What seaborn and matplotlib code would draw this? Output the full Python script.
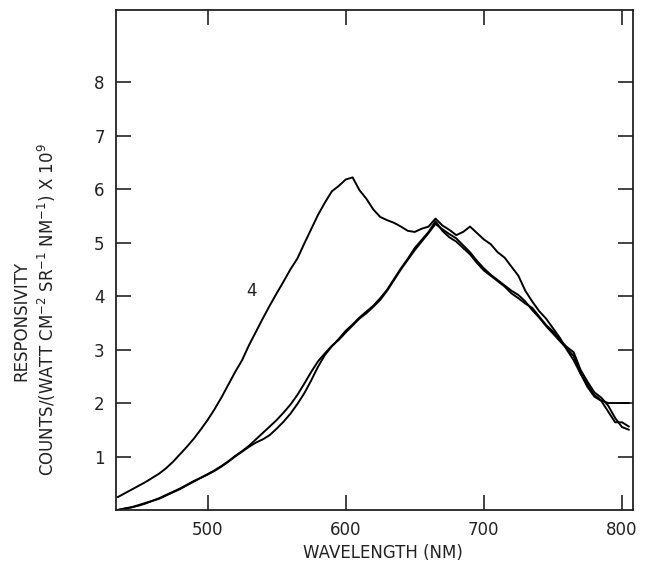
import numpy as np
import pandas as pd
import matplotlib
matplotlib.use("Agg")
import matplotlib.pyplot as plt
import seaborn as sns

wavelength = [435, 440, 445, 450, 455, 460, 465, 470, 475, 480, 485, 490, 495, 500,
              505, 510, 515, 520, 525, 530, 535, 540, 545, 550, 555, 560, 565, 570,
              575, 580, 585, 590, 595, 600, 605, 610, 615, 620, 625, 630, 635, 640,
              645, 650, 655, 660, 665, 670, 675, 680, 685, 690, 695, 700, 705, 710,
              715, 720, 725, 730, 735, 740, 745, 750, 755, 760, 765, 770, 775, 780,
              785, 790, 795, 800, 805]

curve_4 = [0.24, 0.31, 0.38, 0.45, 0.52, 0.60, 0.68, 0.78, 0.90, 1.04, 1.18, 1.33, 1.50, 1.68,
           1.88, 2.10, 2.34, 2.58, 2.80, 3.08, 3.33, 3.58, 3.82, 4.05, 4.27, 4.50, 4.70, 4.98,
           5.25, 5.52, 5.75, 5.96, 6.06, 6.18, 6.22, 5.98, 5.82, 5.62, 5.48, 5.42, 5.37, 5.30,
           5.22, 5.20, 5.26, 5.30, 5.45, 5.32, 5.24, 5.14, 5.20, 5.30, 5.18, 5.06, 4.97, 4.82,
           4.72, 4.55, 4.38, 4.10, 3.90, 3.72, 3.58, 3.40, 3.22, 3.00, 2.80, 2.55, 2.35, 2.15,
           2.05, 2.00, 2.00, 2.00, 2.00]

curve_a = [0.00, 0.02, 0.05, 0.09, 0.13, 0.17, 0.22, 0.28, 0.34, 0.40, 0.47, 0.54, 0.60, 0.67,
           0.74, 0.82, 0.91, 1.01, 1.10, 1.20, 1.32, 1.44, 1.56, 1.68, 1.82, 1.97, 2.15, 2.36,
           2.58, 2.78, 2.93, 3.07, 3.18, 3.32, 3.45, 3.58, 3.68, 3.80, 3.93, 4.10, 4.30, 4.50,
           4.68, 4.86, 5.02, 5.18, 5.35, 5.25, 5.16, 5.08, 4.95, 4.82, 4.66, 4.52, 4.40, 4.30,
           4.20, 4.10, 4.02, 3.90, 3.74, 3.60, 3.44, 3.30, 3.16, 3.02, 2.88, 2.55, 2.30, 2.12,
           2.04, 1.84, 1.64, 1.64, 1.56]

curve_b = [0.00, 0.03, 0.05, 0.08, 0.12, 0.17, 0.21, 0.27, 0.33, 0.39, 0.46, 0.53, 0.60, 0.66,
           0.73, 0.81, 0.90, 1.00, 1.09, 1.18, 1.26, 1.32, 1.40, 1.52, 1.65, 1.80, 1.98, 2.18,
           2.42, 2.68, 2.90, 3.06, 3.20, 3.35, 3.47, 3.60, 3.71, 3.82, 3.96, 4.12, 4.32, 4.52,
           4.70, 4.90, 5.05, 5.20, 5.40, 5.22, 5.10, 5.02, 4.90, 4.78, 4.62, 4.48, 4.38, 4.28,
           4.18, 4.05, 3.96, 3.86, 3.78, 3.62, 3.46, 3.34, 3.18, 3.05, 2.95, 2.62, 2.40, 2.20,
           2.10, 1.95, 1.72, 1.55, 1.50]

x_ticks = [500, 600, 700, 800]
y_ticks = [1, 2, 3, 4, 5, 6, 7, 8]

sns.set_style("ticks")
plt.rcParams['font.family'] = ['DejaVu Sans']

df = pd.DataFrame({
    "wavelength": wavelength * 3,
    "value": curve_4 + curve_a + curve_b,
    "curve": ["4"] * len(wavelength) + ["a"] * len(wavelength) + ["b"] * len(wavelength),
})

fig = plt.figure(figsize=(6.54, 5.73), dpi=100)
ax = fig.add_axes([0.177, 0.110, 0.791, 0.8725])

sns.lineplot(data=df, x="wavelength", y="value", units="curve", estimator=None,
             color="black", linewidth=1.4, sort=False, ax=ax, legend=False)

ax.set_xlim(433.6, 808)
ax.set_ylim(0, 9.35)
ax.set_xticks(x_ticks)
ax.set_yticks(y_ticks)
ax.set_xticklabels([str(v) for v in x_ticks], fontsize=12, color="#222222")
ax.set_yticklabels([str(v) for v in y_ticks], fontsize=12, color="#222222")
ax.tick_params(direction="in", length=10.5, width=1.2, top=True, right=True,
               labelright=False, labeltop=False, pad=8, color="#222222")
for s in ax.spines.values():
    s.set_linewidth(1.3)
    s.set_color("#222222")
ax.set_xlabel("")
ax.set_ylabel("")

ax.text(532, 4.1, "4", fontsize=12, ha="center", va="center", color="#222222")

fig.text(0.585, 0.035, "WAVELENGTH (NM)", fontsize=12, ha="center", va="center", color="#222222")
fig.text(0.032, 0.44, "RESPONSIVITY", fontsize=12, rotation=90, ha="center", va="center",
         color="#222222")
fig.text(0.072, 0.46, r"COUNTS/(WATT CM$^{-2}$ SR$^{-1}$ NM$^{-1}$) X 10$^{9}$", fontsize=12,
         rotation=90, ha="center", va="center", color="#222222")

fig.savefig("out.png", dpi=100)
